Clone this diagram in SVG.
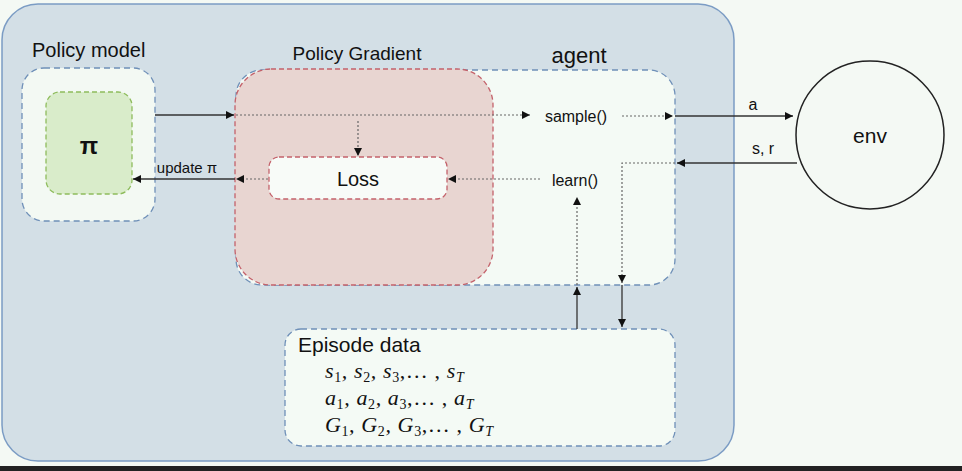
<svg xmlns="http://www.w3.org/2000/svg" width="962" height="471" viewBox="0 0 962 471">
<style>
.t{font-family:"Liberation Sans",Arial,sans-serif;fill:#111}
.m{font-family:"Liberation Serif","DejaVu Serif",serif;font-style:italic;fill:#111;letter-spacing:0.6px}
.bd{stroke:#6f90b8;stroke-width:1.3;stroke-dasharray:6,4}
.dot{fill:none;stroke:#666;stroke-width:1.2;stroke-dasharray:2,2}
.sol{fill:none;stroke:#333;stroke-width:1.3}
</style>
<defs>
<marker id="ah" viewBox="0 0 10 10" refX="10" refY="5" markerWidth="8" markerHeight="8" markerUnits="userSpaceOnUse" orient="auto">
<path d="M0,0 L10,5 L0,10 z" fill="#111"/>
</marker>
</defs>
<rect width="962" height="471" fill="#f4f9f4"/>
<rect x="0" y="466" width="962" height="5" fill="#222"/>
<g id="system">
<rect x="2" y="4" width="732" height="457" rx="36" fill="#d3dfe6" stroke="#7b9cc4" stroke-width="1.5"/>
</g>
<g id="policy-model">
<text class="t" x="32" y="57" font-size="20">Policy model</text>
<rect x="22" y="68" width="133" height="153" rx="22" fill="#f3f9f3" class="bd"/>
</g>
<g id="pi">
<rect x="46" y="92" width="86" height="102" rx="14" fill="#d9ecca" stroke="#8ebc5c" stroke-width="1.3" stroke-dasharray="5,3"/>
<text class="t" x="89" y="154" font-size="24" font-weight="bold" text-anchor="middle">π</text>
</g>
<g id="agent">
<text class="t" x="579" y="63" font-size="22" text-anchor="middle">agent</text>
<rect x="236" y="70" width="439" height="215" rx="26" fill="#f4faf5" class="bd"/>
</g>
<g id="policy-gradient">
<text class="t" x="357" y="60" font-size="19" text-anchor="middle">Policy Gradient</text>
<rect x="235" y="69" width="258" height="216" rx="36" fill="#e8d5d1" stroke="#c4626b" stroke-width="1.3" stroke-dasharray="5,3"/>
</g>
<g id="loss">
<rect x="269" y="157" width="178" height="42" rx="10" fill="#f8fbf8" stroke="#c4626b" stroke-width="1.3" stroke-dasharray="5,3"/>
<text class="t" x="358" y="186" font-size="20" text-anchor="middle">Loss</text>
</g>
<g id="sample">
<text class="t" x="576" y="122" font-size="16" text-anchor="middle">sample()</text>
</g>
<g id="learn">
<text class="t" x="575" y="186" font-size="16" text-anchor="middle">learn()</text>
</g>
<g id="env">
<circle cx="870" cy="135" r="74" fill="none" stroke="#222" stroke-width="1.5"/>
<text class="t" x="870" y="143" font-size="21" text-anchor="middle">env</text>
</g>
<g id="episode-data">
<rect x="285" y="329" width="390" height="117" rx="16" fill="#f4faf5" class="bd"/>
<text class="t" x="298" y="352" font-size="21">Episode data</text>
<text class="m" x="325" y="378" font-size="22">s<tspan font-size="14" dy="4" font-style="normal">1</tspan><tspan dy="-4">, s</tspan><tspan font-size="14" dy="4" font-style="normal">2</tspan><tspan dy="-4">, s</tspan><tspan font-size="14" dy="4" font-style="normal">3</tspan><tspan dy="-4" font-style="normal">,… , </tspan><tspan>s</tspan><tspan font-size="14" dy="4">T</tspan></text>
<text class="m" x="325" y="405" font-size="22">a<tspan font-size="14" dy="4" font-style="normal">1</tspan><tspan dy="-4">, a</tspan><tspan font-size="14" dy="4" font-style="normal">2</tspan><tspan dy="-4">, a</tspan><tspan font-size="14" dy="4" font-style="normal">3</tspan><tspan dy="-4" font-style="normal">,… , </tspan><tspan>a</tspan><tspan font-size="14" dy="4">T</tspan></text>
<text class="m" x="325" y="432" font-size="22">G<tspan font-size="14" dy="4" font-style="normal">1</tspan><tspan dy="-4">, G</tspan><tspan font-size="14" dy="4" font-style="normal">2</tspan><tspan dy="-4">, G</tspan><tspan font-size="14" dy="4" font-style="normal">3</tspan><tspan dy="-4" font-style="normal">,… , </tspan><tspan>G</tspan><tspan font-size="14" dy="4">T</tspan></text>
</g>
<g id="connectors">
<path class="sol" d="M155,115 H234" marker-end="url(#ah)"/>
<path class="dot" d="M236,115 H530" marker-end="url(#ah)"/>
<path class="dot" d="M622,116 H673" marker-end="url(#ah)"/>
<path class="sol" d="M675,116 H793" marker-end="url(#ah)"/>
<text class="t" x="753" y="110" font-size="16" text-anchor="middle">a</text>
<path class="dot" d="M358,121 V156" marker-end="url(#ah)"/>
<path class="sol" d="M797,163 H677" marker-end="url(#ah)"/>
<text class="t" x="763" y="154" font-size="16" text-anchor="middle">s, r</text>
<path class="dot" d="M675,163 H622 V283" marker-end="url(#ah)"/>
<path class="sol" d="M622,285 V327" marker-end="url(#ah)"/>
<path class="sol" d="M577,329 V287" marker-end="url(#ah)"/>
<path class="dot" d="M577,285 V197" marker-end="url(#ah)"/>
<path class="dot" d="M540,179 H448" marker-end="url(#ah)"/>
<path class="dot" d="M268,179 H236" marker-end="url(#ah)"/>
<path class="sol" d="M235,179 H133" marker-end="url(#ah)"/>
<text class="t" x="187" y="173" font-size="15" text-anchor="middle">update π</text>
</g>
</svg>
